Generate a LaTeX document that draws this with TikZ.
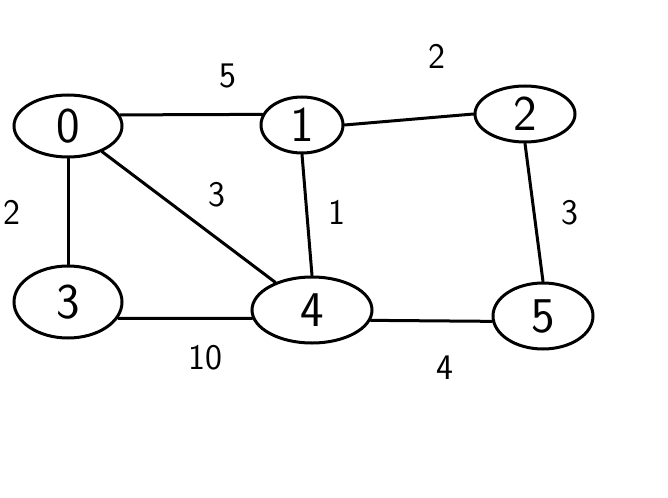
\documentclass[tikz,border=0pt]{standalone}
\usepackage{fontspec}
\usetikzlibrary{shapes.geometric}
\begin{document}
\begin{tikzpicture}[x=1pt,y=-1pt,
  vert/.style={draw,ellipse,line width=3pt,inner sep=0pt,font=\fontsize{50}{56}\selectfont\sffamily},
  edge/.style={line width=3pt,line cap=round},
  wlabel/.style={font=\fontsize{36}{42}\selectfont\sffamily}]
\useasboundingbox[fill=white] (0,0) rectangle (668,497);
\node[vert,minimum width=108pt,minimum height=62pt] (n0) at (68,126) {0};
\node[vert,minimum width=82pt,minimum height=56pt] (n1) at (302,125) {1};
\node[vert,minimum width=100pt,minimum height=56pt] (n2) at (525,114) {2};
\node[vert,minimum width=108pt,minimum height=72pt] (n3) at (68,302) {3};
\node[vert,minimum width=120pt,minimum height=66pt] (n4) at (312,310) {4};
\node[vert,minimum width=100pt,minimum height=66pt] (n5) at (543,316) {5};
\draw[edge] (n0.12) -- (n1.165);
\draw[edge] (n1.east) -- (n2.west);
\draw[edge] (n0.south) -- (n3.north);
\draw[edge] (n0) -- (n4);
\draw[edge] (n1.south) -- (n4.north);
\draw[edge] (n2.south) -- (n5.north);
\draw[edge] (n3.-18) -- (n4.188);
\draw[edge] (n4.-10) -- (n5.186);
\node[wlabel] (w01) at (228,76) {5};
\node[wlabel] (w12) at (437,56) {2};
\node[wlabel] (w03) at (12,212) {2};
\node[wlabel] (w04) at (217,195) {3};
\node[wlabel] (w14) at (337,212) {1};
\node[wlabel] (w25) at (570,213) {3};
\node[wlabel] (w34) at (205,358) {10};
\node[wlabel] (w45) at (445,368) {4};
\end{tikzpicture}
\end{document}
